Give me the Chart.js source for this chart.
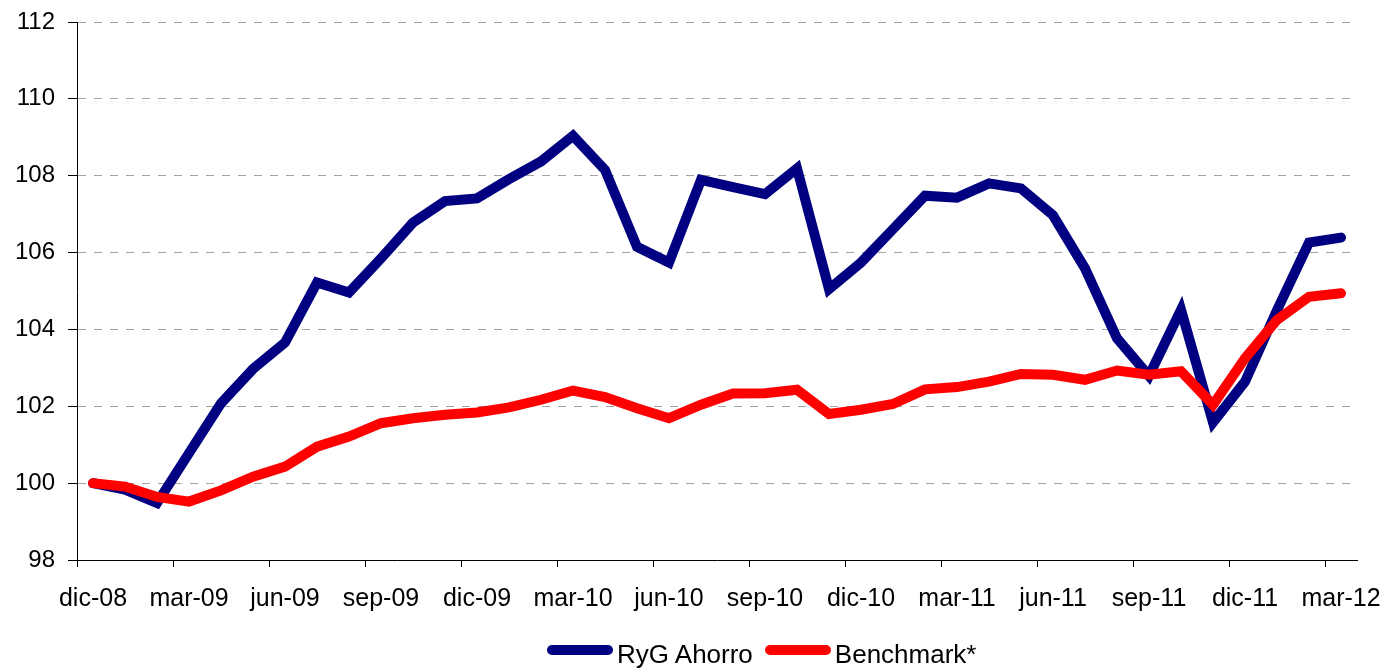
<!DOCTYPE html>
<html lang="es">
<head>
<meta charset="utf-8">
<title>RyG Ahorro vs Benchmark</title>
<script src="https://cdn.jsdelivr.net/npm/chart.js@4.4.1/dist/chart.umd.min.js"></script>
<style>
  html, body { margin: 0; padding: 0; background: #fff; }
  #wrap { position: relative; width: 1388px; height: 669px; }
  #grafica { position: absolute; left: 0; top: 0; }
  .leyenda { position: absolute; top: 639px; left: 547px; display: flex; font: 26px 'Liberation Sans', Arial, sans-serif; line-height: 30px; color: #000; white-space: nowrap; }
  .leyenda .item { display: flex; align-items: flex-start; margin-right: 12px; }
  .leyenda .muestra { width: 66px; height: 10px; border-radius: 5px; margin-top: 6px; margin-right: 4px; }
</style>
</head>
<body>
<div id="wrap">
  <canvas id="grafica" width="1388" height="669"></canvas>
  <div class="leyenda">
    <div class="item"><span class="muestra" style="background:#000080"></span><span>RyG Ahorro</span></div>
    <div class="item"><span class="muestra" style="background:#ff0000"></span><span>Benchmark*</span></div>
  </div>
</div>
<script>
  // --- datos (mensuales, dic-08 .. mar-12) -----------------------------------
  const MESES = [
    'dic-08', 'ene-09', 'feb-09', 'mar-09', 'abr-09', 'may-09', 'jun-09', 'jul-09', 'ago-09', 'sep-09',
    'oct-09', 'nov-09', 'dic-09', 'ene-10', 'feb-10', 'mar-10', 'abr-10', 'may-10', 'jun-10', 'jul-10',
    'ago-10', 'sep-10', 'oct-10', 'nov-10', 'dic-10', 'ene-11', 'feb-11', 'mar-11', 'abr-11', 'may-11',
    'jun-11', 'jul-11', 'ago-11', 'sep-11', 'oct-11', 'nov-11', 'dic-11', 'ene-12', 'feb-12', 'mar-12'
  ];
  const RYG_AHORRO = [
    100.00, 99.83, 99.48, 100.78, 102.08, 102.97, 103.66, 105.22, 104.96, 105.85,
    106.78, 107.34, 107.41, 107.91, 108.37, 109.04, 108.15, 106.15, 105.74, 107.89,
    107.70, 107.52, 108.19, 105.05, 105.74, 106.61, 107.48, 107.43, 107.80, 107.67,
    106.97, 105.59, 103.77, 102.79, 104.51, 101.58, 102.64, 104.50, 106.26, 106.39
  ];
  const BENCHMARK = [
    100.00, 99.91, 99.64, 99.52, 99.81, 100.17, 100.43, 100.95, 101.21, 101.56,
    101.69, 101.78, 101.84, 101.97, 102.17, 102.41, 102.24, 101.95, 101.69, 102.04,
    102.33, 102.34, 102.43, 101.80, 101.91, 102.06, 102.44, 102.50, 102.64, 102.84,
    102.82, 102.69, 102.93, 102.82, 102.91, 102.04, 103.25, 104.25, 104.85, 104.94
  ];
  const Y_MIN = 98, Y_MAX = 112, Y_PASO = 2;
  const CADA = 3; // una etiqueta / marca cada trimestre

  const FUENTE = "'Liberation Sans', Arial, sans-serif";

  new Chart(document.getElementById('grafica'), {
    type: 'line',
    data: {
      labels: MESES,
      datasets: [
        { label: 'RyG Ahorro', data: RYG_AHORRO, borderColor: '#000080', order: 1 },
        { label: 'Benchmark*', data: BENCHMARK, borderColor: '#ff0000', order: 0 }
      ]
    },
    options: {
      responsive: false,
      animation: false,
      layout: { padding: { top: 22, right: 31, bottom: 0, left: 0 } },
      elements: {
        line: { borderWidth: 10, tension: 0, fill: false, borderCapStyle: 'round', borderJoinStyle: 'miter' },
        point: { radius: 0, hoverRadius: 0 }
      },
      plugins: { legend: { display: false }, tooltip: { enabled: false } },
      scales: {
        x: {
          type: 'category',
          offset: true,
          border: { display: true, color: '#000', width: 1 },
          grid: {
            offset: true,
            drawOnChartArea: false,
            drawTicks: true,
            tickLength: 7,
            tickWidth: 1,
            tickColor: (ctx) => (ctx.index % CADA === 0 ? '#000' : 'rgba(0,0,0,0)')
          },
          ticks: {
            autoSkip: false,
            maxRotation: 0,
            minRotation: 0,
            padding: 17,
            color: '#000',
            font: { family: FUENTE, size: 25 },
            callback: (v, i) => (i % CADA === 0 ? MESES[i] : '')
          },
          // el área de trazado la fija layout.padding, no el desborde de etiquetas
          afterFit: (escala) => { escala.height = 109; escala.paddingLeft = 0; escala.paddingRight = 0; }
        },
        y: {
          min: Y_MIN,
          max: Y_MAX,
          // en v4 border.dash es el trazo discontinuo de las líneas de rejilla
          border: { display: true, color: '#000', width: 1, dash: [8, 8] },
          grid: {
            color: (ctx) => (ctx.tick && ctx.tick.value === Y_MIN ? 'rgba(0,0,0,0)' : '#a6a6a6'),
            lineWidth: 1,
            tickBorderDash: [1, 0],
            tickColor: '#000',
            tickLength: 9
          },
          ticks: {
            stepSize: Y_PASO,
            padding: 13,
            color: '#000',
            font: { family: FUENTE, size: 24 }
          },
          afterFit: (escala) => { escala.width = 77; escala.paddingTop = 0; escala.paddingBottom = 0; }
        }
      }
    }
  });
</script>
</body>
</html>
